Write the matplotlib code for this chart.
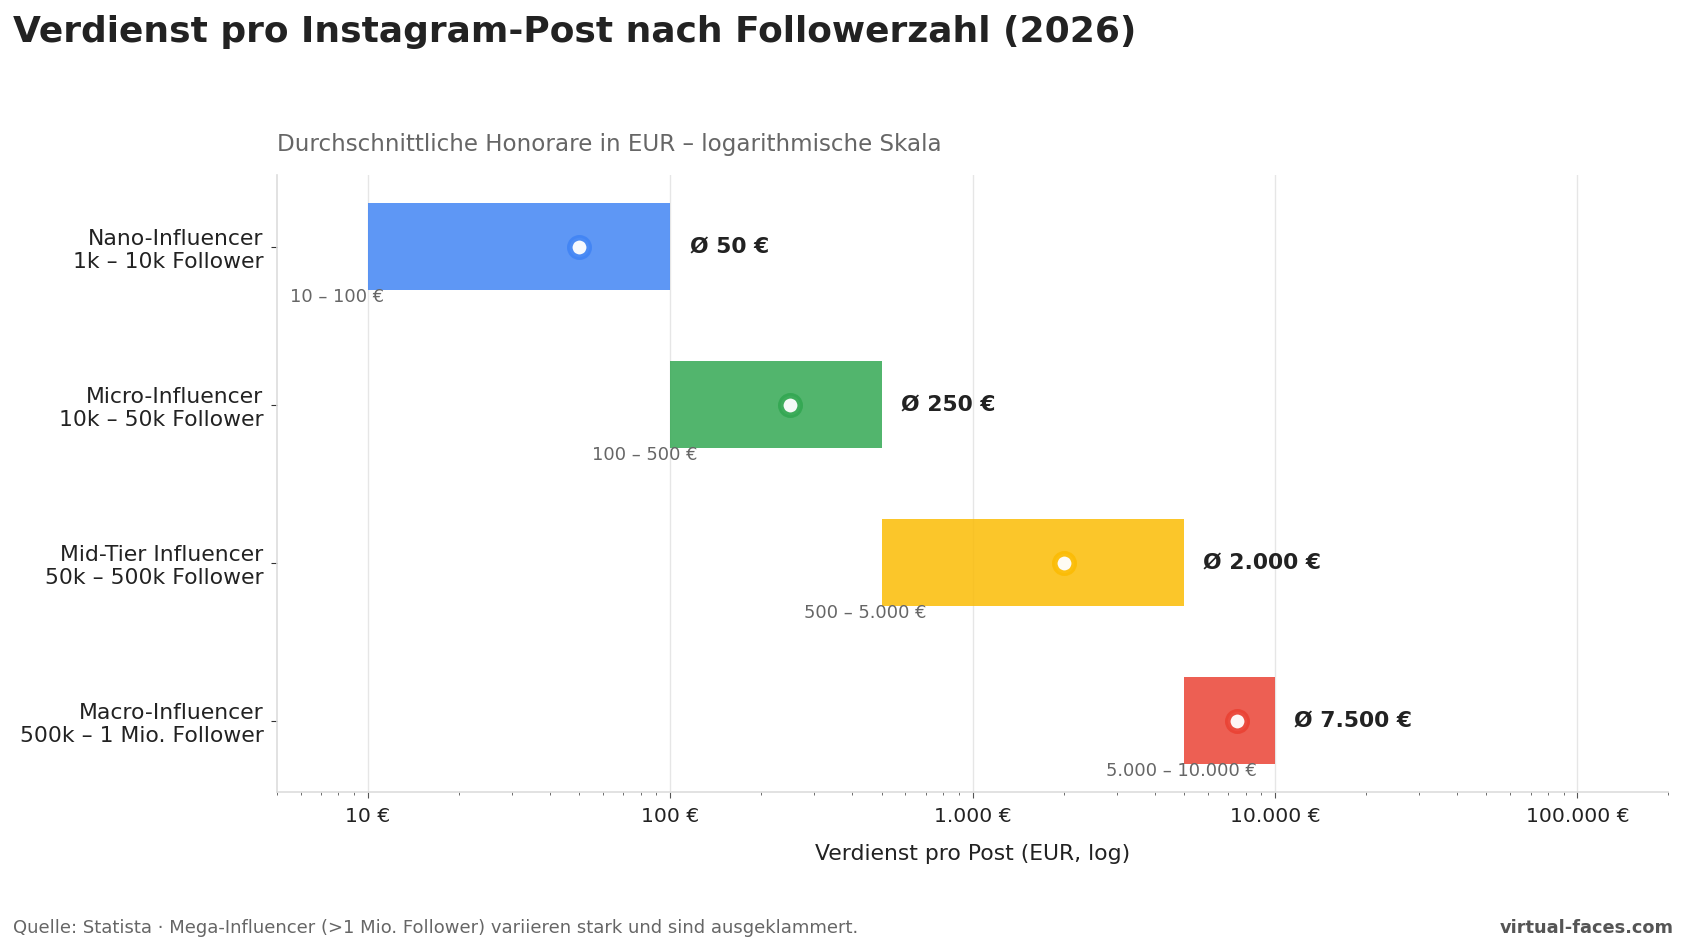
import matplotlib
matplotlib.use("Agg")
import matplotlib.pyplot as plt
from matplotlib.ticker import FuncFormatter, LogLocator, NullFormatter

categories = ["Nano-Influencer\n1k – 10k Follower",
              "Micro-Influencer\n10k – 50k Follower",
              "Mid-Tier Influencer\n50k – 500k Follower",
              "Macro-Influencer\n500k – 1 Mio. Follower"]
low = [10, 100, 500, 5000]
high = [100, 500, 5000, 10000]
avg = [50, 250, 2000, 7500]
colors = ["#4285F4", "#34A853", "#FBBC05", "#EA4335"]


def fmt_de(v):
    return f"{v:,.0f}".replace(",", ".")


plt.rcParams['font.family'] = ['DejaVu Sans']
fig = plt.figure(figsize=(16.87, 9.51), dpi=100)
ax = fig.add_axes([0.164, 0.167, 0.825, 0.649])

ypos = list(range(len(categories)))
for i in ypos:
    ax.barh(i, high[i] - low[i], left=low[i], height=0.55, color=colors[i],
            alpha=0.85, zorder=2)
    ax.plot(avg[i], i, 'o', ms=14, mfc='white', mec=colors[i], mew=4,
            alpha=0.95, zorder=4)
    ax.annotate(f"Ø {fmt_de(avg[i])} €", (high[i], i), xytext=(14, 0),
                textcoords='offset points', va='center', ha='left',
                fontsize=15.75, fontweight='bold', color='#222222')
    ax.annotate(f"{fmt_de(low[i])} – {fmt_de(high[i])} €", (low[i], i + 0.32),
                xytext=(-56, 0), textcoords='offset points', va='center',
                ha='left', fontsize=12.9, color='#666666')

ax.set_xscale('log')
ax.set_xlim(5, 200000)
ax.set_ylim(3.4525, -0.4525)
ax.set_yticks(ypos)
ax.set_yticklabels(categories, fontsize=15.75, color='#222222')
ax.xaxis.set_major_locator(LogLocator(base=10))
ax.xaxis.set_major_formatter(FuncFormatter(lambda v, p: f"{fmt_de(v)} €"))
ax.xaxis.set_minor_formatter(NullFormatter())
ax.tick_params(axis='x', labelsize=14.6, colors='#222222', length=4,
               color='#555555', pad=6.5)
ax.tick_params(axis='x', which='minor', length=2.5, color='#555555')
ax.tick_params(axis='y', length=4, color='#333333', pad=5.5)
ax.grid(axis='x', which='major', color='#e6e6e6', lw=1, zorder=0)
ax.set_axisbelow(True)
for s in ['top', 'right']:
    ax.spines[s].set_visible(False)
for s in ['left', 'bottom']:
    ax.spines[s].set_color('#dddddd')
    ax.spines[s].set_linewidth(1.2)

ax.set_xlabel("Verdienst pro Post (EUR, log)", fontsize=15.75, color='#222222',
              labelpad=13)
ax.set_title("Durchschnittliche Honorare in EUR – logarithmische Skala",
             loc='left', fontsize=16.6, color='#666666', pad=17)

fig.text(0.008, 0.966, "Verdienst pro Instagram-Post nach Followerzahl (2026)",
         fontsize=25.9, fontweight='bold', color='#222222', va='center', ha='left')
fig.text(0.008, 0.0245,
         "Quelle: Statista · Mega-Influencer (>1 Mio. Follower) variieren stark und sind ausgeklammert.",
         fontsize=13, color='#666666', va='center', ha='left')
fig.text(0.992, 0.0245, "virtual-faces.com", fontsize=12.8, fontweight='bold',
         color='#555555', va='center', ha='right')

fig.savefig("out.png", dpi=100, facecolor='white')
